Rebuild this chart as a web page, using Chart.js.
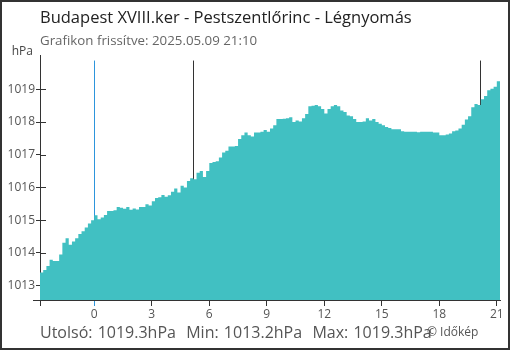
<!DOCTYPE html>
<html>
<head>
<meta charset="utf-8">
<script src="https://cdn.jsdelivr.net/npm/chart.js@4"></script>
<style>
    body { margin: 0; background: #fff; }
    #box { position: relative; width: 510px; height: 350px; box-sizing: border-box; border: 2px solid #333; font-family: "Open Sans", sans-serif; overflow: hidden; }
    #box canvas { position: absolute; left: -2px; top: -2px; }
    .txt { position: absolute; white-space: nowrap; }
    #title { left: 38px; top: 7px; font-size: 16.5px; line-height: 16px; color: #222; }
    #sub { left: 38px; top: 31.5px; font-size: 13.3px; line-height: 13px; color: #666; }
    #unit { right: 475px; top: 42.5px; font-size: 12px; line-height: 12px; color: #444; }
    #stats { left: 38px; top: 322px; font-size: 16px; line-height: 16px; color: #555; word-spacing: 1px; }
    #copy { left: 425px; top: 324px; font-size: 12px; line-height: 12px; color: #555; }
</style>
</head>
<body>
<div id="box">
    <canvas id="chart-pressure" width="510" height="350"></canvas>
    <div class="txt" id="title">Budapest XVIII.ker - Pestszentlőrinc - Légnyomás</div>
    <div class="txt" id="sub">Grafikon frissítve: 2025.05.09 21:10</div>
    <div class="txt" id="unit">hPa</div>
    <div class="txt" id="stats">Utolsó: 1019.3hPa&nbsp; Min: 1013.2hPa&nbsp; Max: 1019.3hPa</div>
    <div class="txt" id="copy">© Időkép</div>
</div>
<script>
// 10 minute readings, first one 24 h before the update time (21:10 previous day)
const startHour = -2.833;
const stepHour = 1 / 6;
const pressure = [
    1013.40, 1013.48, 1013.60, 1013.79, 1013.75, 1013.75, 1013.95, 1014.31, 1014.45, 1014.25,
    1014.35, 1014.45, 1014.58, 1014.66, 1014.78, 1014.90, 1015.00, 1015.15, 1015.03, 1015.08,
    1015.16, 1015.28, 1015.28, 1015.30, 1015.40, 1015.38, 1015.35, 1015.40, 1015.32, 1015.36,
    1015.33, 1015.40, 1015.40, 1015.49, 1015.45, 1015.58, 1015.68, 1015.70, 1015.77, 1015.72,
    1015.76, 1015.87, 1015.97, 1015.85, 1016.05, 1016.00, 1016.20, 1016.28, 1016.25, 1016.45,
    1016.50, 1016.32, 1016.50, 1016.75, 1016.78, 1016.80, 1016.92, 1017.07, 1017.12, 1017.25,
    1017.25, 1017.27, 1017.48, 1017.60, 1017.68, 1017.60, 1017.56, 1017.68, 1017.68, 1017.70,
    1017.76, 1017.70, 1017.80, 1017.90, 1018.09, 1018.09, 1018.10, 1018.12, 1018.15, 1018.00,
    1018.05, 1018.02, 1018.12, 1018.25, 1018.48, 1018.50, 1018.52, 1018.48, 1018.40, 1018.26,
    1018.40, 1018.48, 1018.52, 1018.48, 1018.35, 1018.31, 1018.20, 1018.18, 1018.09, 1018.00,
    1018.00, 1018.02, 1018.12, 1018.05, 1018.09, 1018.00, 1017.95, 1017.90, 1017.85, 1017.82,
    1017.78, 1017.78, 1017.78, 1017.72, 1017.70, 1017.70, 1017.70, 1017.70, 1017.69, 1017.70,
    1017.70, 1017.70, 1017.70, 1017.68, 1017.68, 1017.60, 1017.60, 1017.62, 1017.65, 1017.72,
    1017.74, 1017.80, 1017.92, 1018.08, 1018.18, 1018.45, 1018.55, 1018.52, 1018.70, 1018.80,
    1018.97, 1019.02, 1019.08, 1019.25, 1019.30
];
const xTicks = [-2.833, 0, 3, 6, 9, 12, 15, 18, 21];
const yTicks = [1013, 1014, 1015, 1016, 1017, 1018, 1019];
const midnight = 0;
const sunTimes = [5.17, 20.1];

const blue = '#2d95dc';
const dark = '#333';

const points = pressure.map((p, i) => ({x: startHour + i * stepHour, y: p}));

const markers = {
    id: 'markers',
    beforeDatasetsDraw(chart) {
        const {ctx, chartArea, scales} = chart;
        const top = scales.y.getPixelForValue(1019.88);
        ctx.save();
        ctx.lineWidth = 1;
        sunTimes.forEach(t => {
            const x = Math.round(scales.x.getPixelForValue(t)) + 0.5;
            ctx.strokeStyle = dark;
            ctx.beginPath();
            ctx.moveTo(x, top);
            ctx.lineTo(x, chartArea.bottom);
            ctx.stroke();
        });
        const mx = Math.round(scales.x.getPixelForValue(midnight)) + 0.5;
        ctx.strokeStyle = blue;
        ctx.beginPath();
        ctx.moveTo(mx, top);
        ctx.lineTo(mx, chartArea.bottom);
        ctx.stroke();
        // small ticks inside the plot on the y axis
        ctx.strokeStyle = dark;
        yTicks.forEach(v => {
            const y = Math.round(scales.y.getPixelForValue(v)) + 0.5;
            ctx.beginPath();
            ctx.moveTo(chartArea.left, y);
            ctx.lineTo(chartArea.left + 6, y);
            ctx.stroke();
        });
        // x axis sticks out a little on the left
        ctx.beginPath();
        ctx.moveTo(chartArea.left - 7, chartArea.bottom + 0.5);
        ctx.lineTo(chartArea.left, chartArea.bottom + 0.5);
        ctx.stroke();
        ctx.restore();
    }
};

new Chart(document.getElementById('chart-pressure'), {
    type: 'line',
    data: {
        datasets: [{
            data: points,
            stepped: true,
            fill: 'start',
            backgroundColor: '#41c0c2',
            borderWidth: 0,
            pointRadius: 0
        }]
    },
    options: {
        responsive: false,
        animation: false,
        layout: {padding: {top: 55, right: 10, left: 0, bottom: 0}},
        plugins: {legend: {display: false}, tooltip: {enabled: false}},
        scales: {
            x: {
                type: 'linear',
                min: -2.833,
                max: 21.167,
                afterBuildTicks: s => { s.ticks = xTicks.map(v => ({value: v})); },
                afterFit: s => { s.height = 50; },
                ticks: {
                    callback: (v, i) => i === 0 ? '' : String(v),
                    color: '#555',
                    font: {family: 'Open Sans', size: 12},
                    padding: 1,
                    maxRotation: 0,
                    autoSkip: false
                },
                grid: {
                    drawOnChartArea: false,
                    tickLength: 6,
                    tickColor: ctx => (ctx.tick && ctx.tick.value === midnight) ? blue : dark
                },
                border: {color: dark, width: 1}
            },
            y: {
                min: 1012.56,
                max: 1020.05,
                afterBuildTicks: s => { s.ticks = yTicks.map(v => ({value: v})); },
                afterFit: s => { s.width = 40; },
                ticks: {
                    callback: v => String(v),
                    color: '#555',
                    font: {family: 'Open Sans', size: 12},
                    padding: 1
                },
                grid: {drawOnChartArea: false, tickLength: 4, tickColor: dark},
                border: {color: dark, width: 1}
            }
        }
    },
    plugins: [markers]
});
</script>
</body>
</html>
